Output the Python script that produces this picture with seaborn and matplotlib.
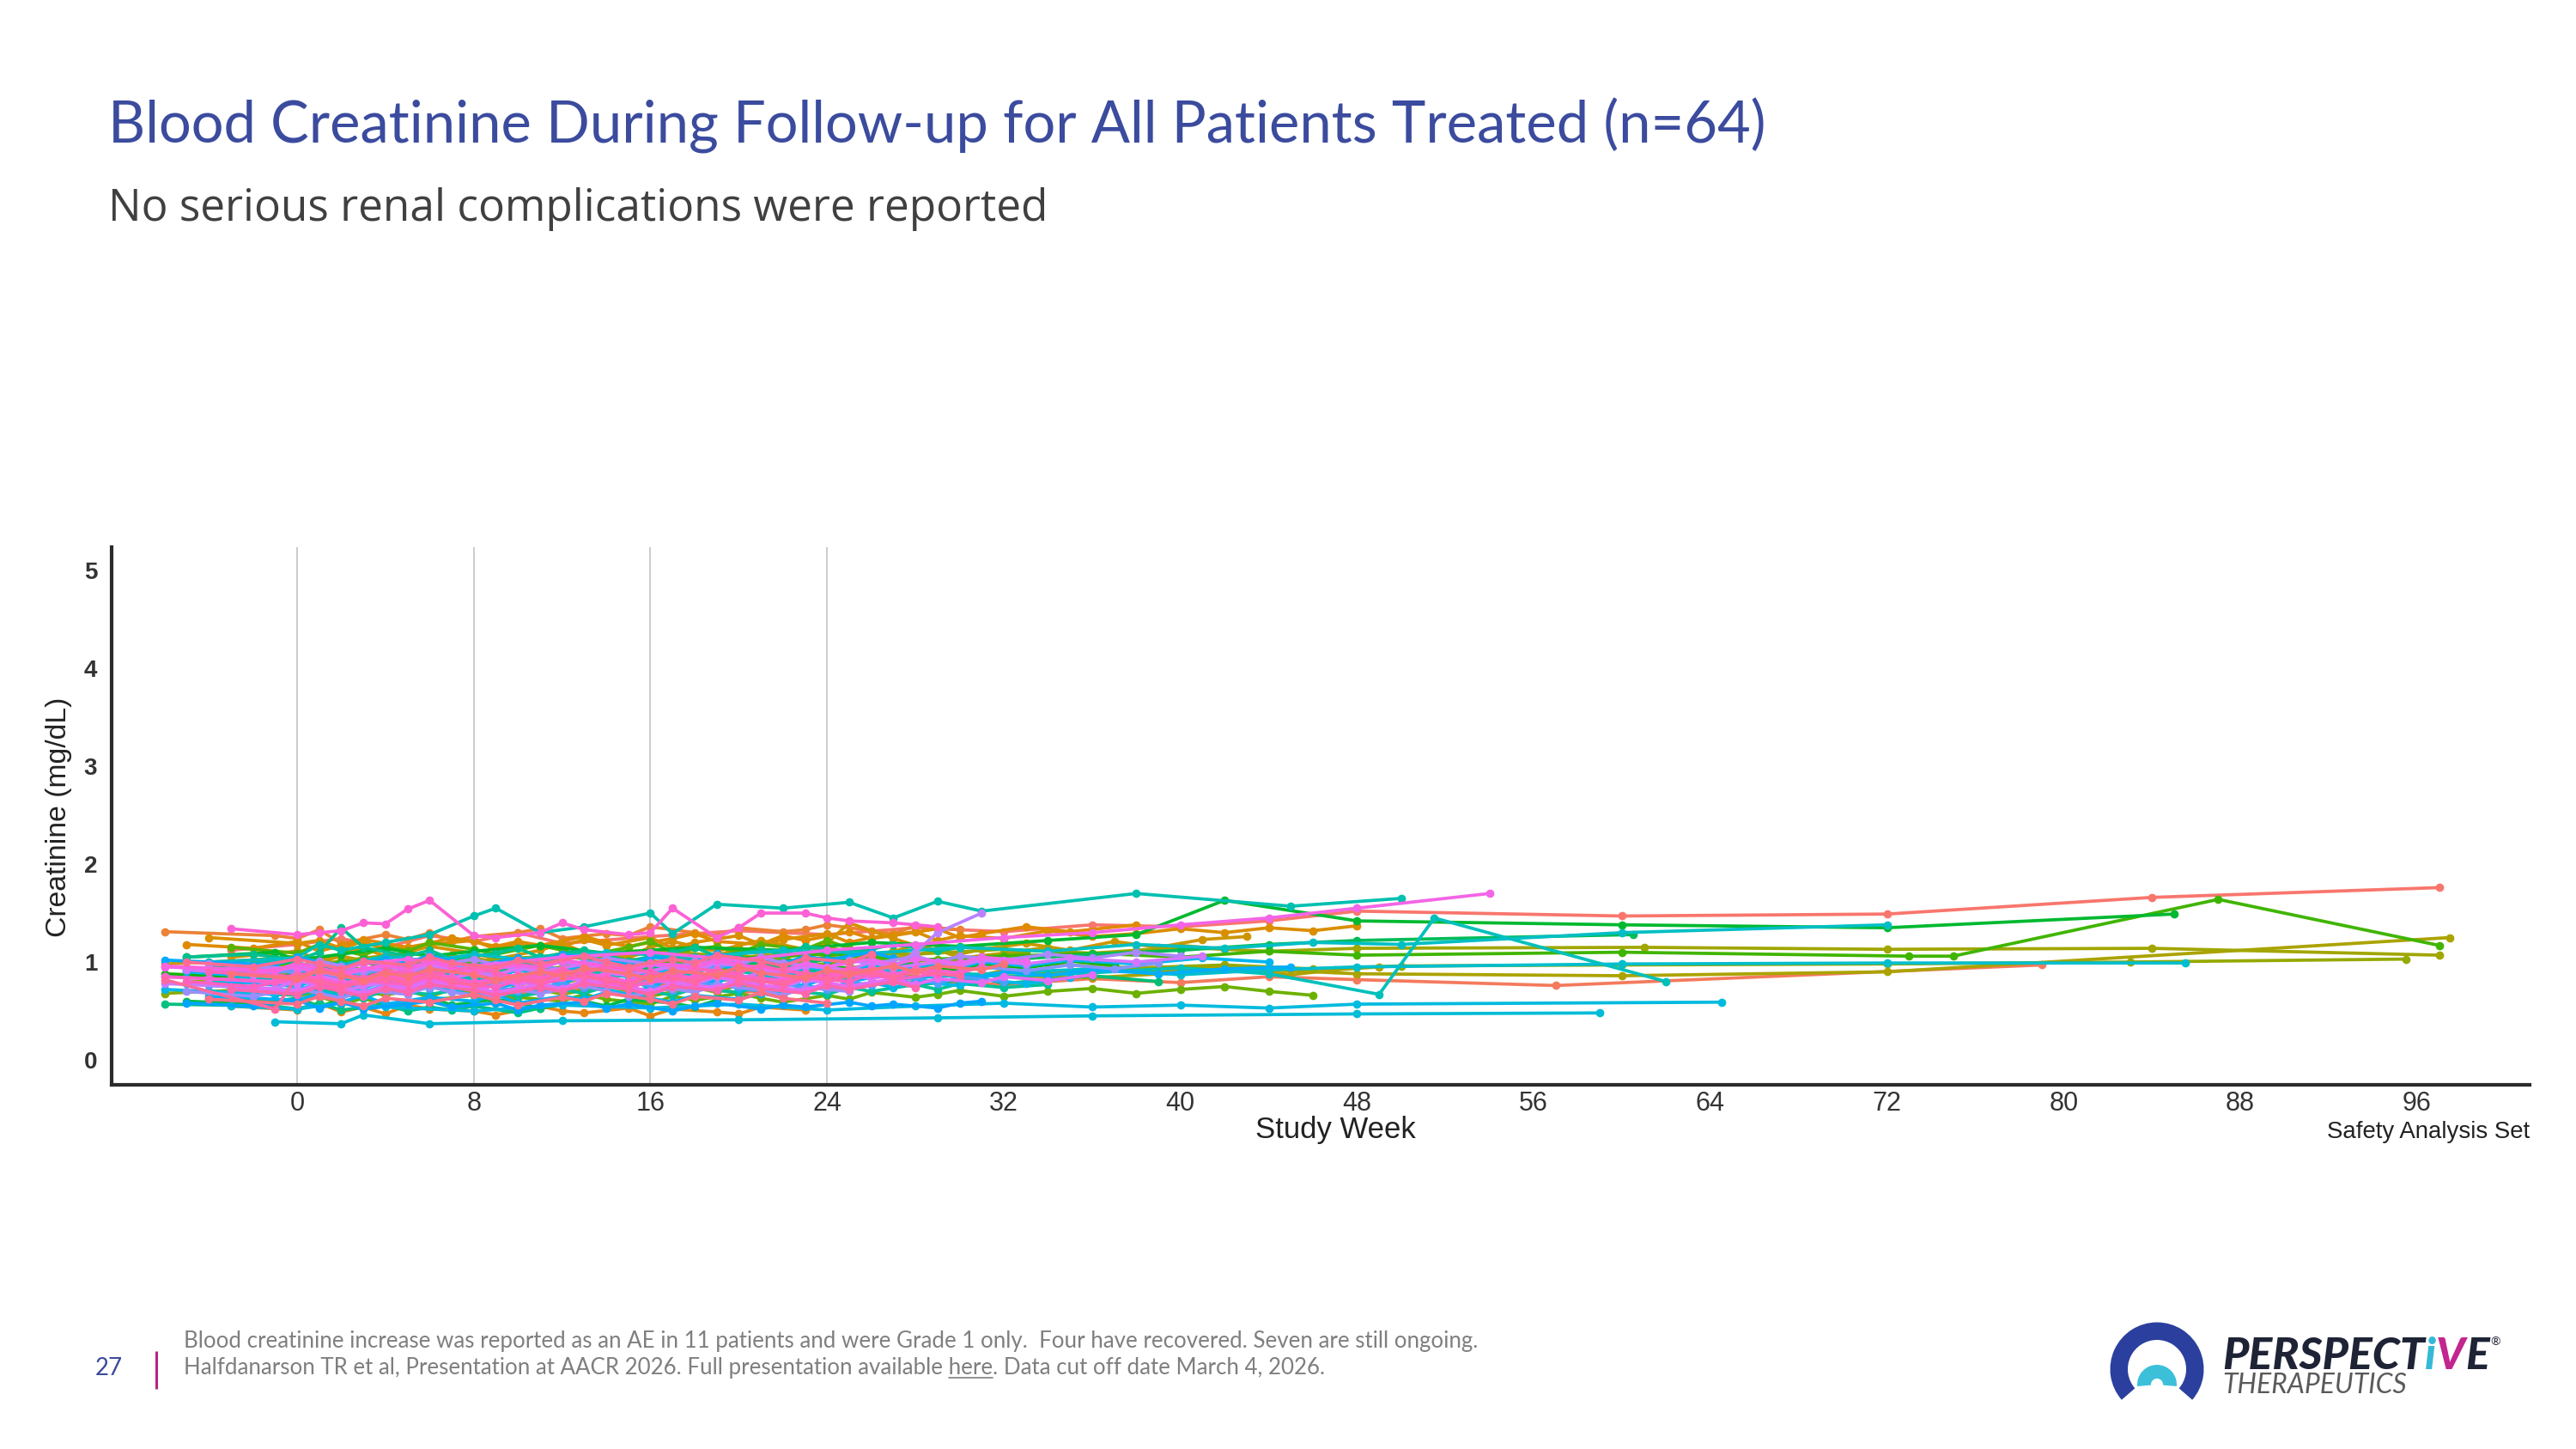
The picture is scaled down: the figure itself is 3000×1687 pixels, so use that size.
import numpy as np
import pandas as pd
import matplotlib
matplotlib.use("Agg")
import matplotlib.pyplot as plt
import seaborn as sns
from matplotlib.patches import Wedge
from matplotlib import font_manager as fm

# ---------------- text ----------------
TITLE = "Blood Creatinine During Follow-up for All Patients Treated (n=64)"
SUBTITLE = "No serious renal complications were reported"
XLABEL = "Study Week"
YLABEL = "Creatinine (mg/dL)"
SET_LABEL = "Safety Analysis Set"
FOOT1 = ("Blood creatinine increase was reported as an AE in 11 patients and were Grade 1 only.  "
         "Four have recovered. Seven are still ongoing.")
FOOT2_A = "Halfdanarson TR et al, Presentation at AACR 2026. Full presentation available "
FOOT2_LINK = "here"
FOOT2_B = ". Data cut off date March 4, 2026."
PAGE = "27"

XTICKS = [0, 8, 16, 24, 32, 40, 48, 56, 64, 72, 80, 88, 96]
YTICKS = [0, 1, 2, 3, 4, 5]
REF_WEEKS = [0, 8, 16, 24]

# ---------------- visit grids (study week) ----------------
WEEKS_A = [-4, 0, 1, 2, 3, 4, 6, 8, 9, 10, 12, 13, 14, 16, 17, 18, 20, 21, 22, 24, 25, 26, 28, 29, 30, 32, 34, 36, 38, 40, 42, 44, 46, 48]
WEEKS_B = [-6, -1, 0, 1, 2, 4, 5, 6, 7, 8, 10, 11, 12, 14, 15, 16, 18, 19, 20, 22, 23, 24, 26, 27, 28, 30, 31, 33, 35, 37, 39, 41, 43, 45]
WEEKS_C = [-3, 0, 1, 2, 3, 4, 5, 6, 8, 9, 11, 12, 13, 15, 16, 17, 19, 20, 21, 23, 24, 25, 27, 28, 29, 31, 32, 34, 36, 39, 42, 45, 47, 49]
WEEKS_D = [-5, -2, 0, 1, 2, 3, 5, 6, 7, 9, 10, 11, 13, 14, 15, 17, 18, 19, 21, 22, 23, 25, 26, 27, 29, 30, 31, 33, 35, 38, 41, 44, 47, 50]

# ---------------- creatinine per patient (weeks, mg/dL) ----------------
P01 = ([-3, 0, 2, 4, 6, 8, 10, 12, 16, 20, 24, 28, 32, 36, 40, 44, 48, 60, 72, 84, 97],
       [1.12, 1.18, 1.24, 1.15, 1.27, 1.21, 1.30, 1.19, 1.26, 1.32, 1.28, 1.35, 1.31, 1.38, 1.36, 1.42, 1.52, 1.47, 1.49, 1.66, 1.76])
P02 = ([-4, 0, 1, 3, 6, 9, 12, 16, 20, 24, 28, 32, 36, 40, 44, 48, 57, 79],
       [0.68, 0.72, 0.64, 0.70, 0.75, 0.66, 0.71, 0.78, 0.69, 0.74, 0.80, 0.77, 0.83, 0.79, 0.85, 0.82, 0.76, 0.97])
P03 = (WEEKS_A, [0.92, 0.87, 0.96, 0.90, 0.84, 0.93, 0.99, 0.91, 0.86, 0.95, 1.01, 0.94, 0.89, 1.02, 0.97, 0.93, 1.04, 0.99, 0.95, 1.06, 1.01, 1.08])
P04 = (WEEKS_B, [1.31, 1.27, 1.24, 1.33, 1.19, 1.28, 1.23, 1.30, 1.21, 1.26, 1.30, 1.34, 1.24, 1.29, 1.27, 1.36, 1.30, 1.26, 1.35, 1.31, 1.33, 1.38, 1.32, 1.29, 1.37, 1.33])
P05 = (WEEKS_C, [0.55, 0.51, 0.58, 0.49, 0.54, 0.47, 0.56, 0.52, 0.50, 0.46, 0.55, 0.50, 0.48, 0.53, 0.45, 0.52, 0.49, 0.47, 0.54, 0.51])
P06 = (WEEKS_D, [1.18, 1.14, 1.21, 1.11, 1.17, 1.23, 1.15, 1.19, 1.25, 1.16, 1.21, 1.17, 1.26, 1.20, 1.16, 1.24, 1.29, 1.21, 1.18, 1.27, 1.22, 1.31, 1.24, 1.27, 1.34, 1.25, 1.29, 1.36, 1.31, 1.38])
P07 = (WEEKS_A, [1.25, 1.19, 1.22, 1.14, 1.21, 1.12, 1.18, 1.22, 1.13, 1.19, 1.16, 1.23, 1.17, 1.25, 1.14, 1.20, 1.27, 1.18, 1.23, 1.29, 1.20, 1.25, 1.31, 1.22, 1.27, 1.24, 1.32, 1.26, 1.29, 1.34, 1.30, 1.35, 1.32, 1.37])
P08 = (WEEKS_C, [1.05, 1.11, 1.02, 1.08, 1.14, 1.06, 1.10, 1.16, 1.09, 1.03, 1.12, 1.19, 1.10, 1.06, 1.15, 1.21, 1.11, 1.17, 1.22, 1.13, 1.19, 1.40, 1.24, 1.17, 1.21])
P09 = (WEEKS_B, [0.98, 1.03, 0.95, 1.00, 1.06, 0.97, 1.02, 0.99, 1.07, 1.01, 0.96, 1.04, 1.09, 1.00, 1.05, 1.11, 1.02, 1.07, 1.13, 1.04, 1.09, 1.15, 1.06, 1.11, 1.17, 1.08, 1.13, 1.19, 1.12, 1.21, 1.15, 1.23, 1.26])
P10 = (WEEKS_D, [0.85, 0.79, 0.88, 0.82, 0.77, 0.86, 0.83, 0.78, 0.87, 0.81, 0.75, 0.84, 0.89, 0.80, 0.76, 0.85, 0.82, 0.88, 0.79, 0.84, 0.91, 0.83, 0.86, 0.92])
P11 = (WEEKS_A, [1.00, 0.94, 1.03, 0.97, 0.91, 1.01, 0.96, 1.05, 0.99, 0.93, 1.02, 0.98, 1.07, 1.00, 0.95, 1.03, 1.09, 1.01, 0.97, 1.05, 1.11, 1.02, 1.07, 1.13, 1.04, 1.09, 1.15, 1.06, 1.11, 1.17, 1.13])
P12 = (WEEKS_C, [0.78, 0.83, 0.75, 0.80, 0.86, 0.77, 0.83, 0.79, 0.73, 0.81, 0.87, 0.78, 0.84, 0.80, 0.75, 0.83, 0.89, 0.81, 0.85, 0.91, 0.82, 0.87, 0.93, 0.84, 0.89, 0.86, 0.92, 0.88, 0.94, 0.90, 0.96, 0.87, 0.92, 0.95])
P13 = ([-5, 0, 2, 4, 8, 12, 16, 20, 24, 28, 32, 36, 40, 44, 48, 60, 72, 97.5],
       [0.80, 0.84, 0.78, 0.86, 0.82, 0.88, 0.85, 0.81, 0.87, 0.90, 0.86, 0.84, 0.89, 0.92, 0.88, 0.86, 0.90, 1.25])
P14 = ([-2, 0, 1, 3, 5, 8, 12, 16, 20, 24, 28, 32, 36, 40, 44, 48, 61, 72, 84, 97],
       [1.02, 1.06, 0.98, 1.04, 1.09, 1.01, 1.07, 1.12, 1.05, 1.10, 1.08, 1.13, 1.09, 1.15, 1.11, 1.14, 1.15, 1.13, 1.14, 1.07])
P15 = ([-4, 0, 2, 4, 7, 10, 14, 18, 22, 26, 30, 34, 38, 42, 46, 50, 60, 72, 83, 95.5],
       [0.90, 0.86, 0.93, 0.88, 0.95, 0.91, 0.87, 0.94, 0.90, 0.96, 0.92, 0.98, 0.94, 0.97, 0.93, 0.96, 0.97, 0.98, 1.00, 1.03])
P16 = (WEEKS_B, [0.68, 0.73, 0.65, 0.70, 0.75, 0.66, 0.71, 0.64, 0.73, 0.69, 0.63, 0.72, 0.67, 0.76, 0.70, 0.65, 0.74, 0.69, 0.77, 0.71])
P17 = (WEEKS_D, [0.92, 0.97, 0.89, 0.94, 1.00, 0.91, 0.97, 0.93, 0.87, 0.95, 1.01, 0.92, 0.98, 0.94, 0.89, 0.97, 1.03, 0.95, 0.99, 1.05, 0.96, 1.01, 1.07, 0.98, 1.03, 1.00, 1.05, 1.09])
P18 = (WEEKS_A, [0.62, 0.59, 0.65, 0.57, 0.63, 0.56, 0.61, 0.66, 0.58, 0.64, 0.60, 0.67, 0.62, 0.57, 0.65, 0.61, 0.68, 0.63, 0.59, 0.66, 0.62, 0.69, 0.64, 0.67, 0.71, 0.65, 0.70, 0.73, 0.68, 0.72, 0.75, 0.70, 0.66])
P19 = (WEEKS_C, [1.15, 1.09, 1.18, 1.12, 1.07, 1.16, 1.11, 1.20, 1.13, 1.08, 1.17, 1.12, 1.06, 1.15, 1.21, 1.10, 1.16, 1.09, 1.18, 1.13, 1.22, 1.14])
P20 = ([-3, 0, 1, 2, 4, 6, 8, 12, 16, 20, 24, 28, 32, 36, 40, 44, 48, 60, 73, 75, 87, 97],
       [0.95, 0.99, 0.92, 1.01, 0.97, 1.03, 0.98, 1.05, 1.00, 1.04, 1.08, 1.02, 1.06, 1.09, 1.05, 1.11, 1.07, 1.10, 1.06, 1.06, 1.64, 1.17])
P21 = (WEEKS_B, [0.88, 0.83, 0.90, 0.86, 0.81, 0.89, 0.85, 0.92, 0.87, 0.82, 0.92, 0.88, 0.84, 0.91, 0.86, 0.93, 0.89, 0.84, 0.94, 0.90, 0.87, 0.96, 0.91, 0.88, 0.97, 0.92, 0.98, 0.94, 1.01, 0.97])
P22 = ([-5, -1, 0, 2, 4, 6, 8, 11, 14, 18, 22, 26, 30, 34, 38, 42, 48, 60, 72, 85],
       [1.05, 1.10, 1.02, 1.08, 1.14, 1.06, 1.11, 1.17, 1.09, 1.15, 1.12, 1.20, 1.16, 1.22, 1.28, 1.63, 1.42, 1.38, 1.35, 1.49])
P23 = (WEEKS_D, [0.60, 0.57, 0.63, 0.55, 0.61, 0.54, 0.59, 0.64, 0.56, 0.62, 0.58, 0.53, 0.60, 0.55, 0.62, 0.58, 0.54, 0.61])
P24 = ([-3, 0, 1, 2, 4, 6, 8, 12, 16, 20, 24, 28, 32, 36, 40, 44, 48, 60.5],
       [0.88, 0.92, 0.85, 0.90, 0.96, 0.89, 0.94, 1.00, 0.93, 0.98, 1.04, 0.97, 1.02, 1.08, 1.12, 1.18, 1.22, 1.28])
P25 = (WEEKS_A, [0.95, 1.00, 0.92, 0.97, 1.03, 0.94, 1.00, 0.96, 0.90, 0.98, 1.04, 0.95, 1.01, 0.97, 0.92, 1.00, 1.06, 0.98, 0.94, 1.03, 0.99])
P26 = (WEEKS_C, [0.74, 0.69, 0.77, 0.72, 0.67, 0.75, 0.71, 0.79, 0.73, 0.68, 0.76, 0.72, 0.80, 0.74, 0.69, 0.77, 0.73, 0.81, 0.75, 0.70, 0.78, 0.74, 0.82, 0.76, 0.79, 0.84, 0.78, 0.82, 0.86, 0.80])
P27 = (WEEKS_B, [0.57, 0.55, 0.52, 0.58, 0.51, 0.56, 0.50, 0.54, 0.51, 0.55, 0.48, 0.53])
P28 = (WEEKS_D, [1.05, 1.08, 1.02, 1.10, 1.35, 1.15, 1.06, 1.12, 1.03, 1.09, 1.14, 1.05, 1.12, 1.07, 1.01, 1.10, 1.15, 1.06, 1.12, 1.08, 1.16, 1.10, 1.13, 1.18, 1.11, 1.15])
P29 = (WEEKS_A, [0.70, 0.66, 0.72, 0.68, 0.63, 0.71, 0.67, 0.74, 0.69, 0.65, 0.72, 0.68, 0.75, 0.70, 0.66, 0.73, 0.69, 0.76, 0.71, 0.67, 0.74, 0.70, 0.77, 0.72, 0.78, 0.74, 0.77])
P30 = (WEEKS_C, [0.85, 0.80, 0.87, 0.83, 0.77, 0.86, 0.81, 0.89, 0.84, 0.79, 0.87, 0.82, 0.90, 0.85, 0.80, 0.88, 0.83, 0.91, 0.86, 0.81, 0.89, 0.84, 0.92])
P31 = ([-3, 0, 1, 2, 4, 6, 8, 9, 11, 13, 16, 17, 19, 22, 25, 27, 29, 31, 38, 45, 50],
       [0.95, 1.05, 1.18, 1.12, 1.20, 1.28, 1.47, 1.55, 1.30, 1.36, 1.50, 1.29, 1.59, 1.55, 1.61, 1.45, 1.62, 1.52, 1.70, 1.57, 1.65])
P32 = ([-2, 0, 1, 3, 5, 8, 12, 16, 20, 24, 28, 32, 36, 40, 44, 49, 51.5, 62],
       [0.82, 0.86, 0.79, 0.84, 0.88, 0.81, 0.85, 0.90, 0.83, 0.87, 0.92, 0.85, 0.89, 0.94, 0.88, 0.67, 1.45, 0.80])
P33 = ([-4, 0, 2, 4, 6, 8, 10, 14, 18, 22, 26, 30, 34, 38, 42, 46, 50, 60, 72],
       [1.00, 1.04, 0.97, 1.06, 1.01, 1.08, 1.03, 1.10, 1.05, 1.12, 1.09, 1.15, 1.11, 1.18, 1.14, 1.20, 1.18, 1.30, 1.38])
P34 = ([-5, 0, 1, 3, 6, 9, 12, 15, 18, 21, 24, 28, 32, 36, 40, 44, 48, 60, 72, 85.5],
       [0.78, 0.82, 0.75, 0.80, 0.85, 0.79, 0.83, 0.88, 0.81, 0.86, 0.90, 0.84, 0.89, 0.93, 0.87, 0.92, 0.95, 0.98, 0.99, 0.99])
P35 = ([-1, 2, 3, 6, 12, 20, 29, 36, 48, 59],
       [0.39, 0.37, 0.46, 0.37, 0.40, 0.41, 0.43, 0.45, 0.47, 0.48])
P36 = ([-3, 0, 2, 4, 8, 12, 16, 20, 24, 28, 32, 36, 40, 44, 48, 64.5],
       [0.55, 0.52, 0.58, 0.54, 0.50, 0.56, 0.53, 0.57, 0.51, 0.55, 0.58, 0.54, 0.56, 0.53, 0.57, 0.59])
P37 = (WEEKS_B, [0.72, 0.67, 0.75, 0.70, 0.65, 0.73, 0.69, 0.76, 0.71, 0.66, 0.74, 0.70, 0.77, 0.72, 0.67, 0.75, 0.71, 0.78, 0.73, 0.68, 0.76, 0.72, 0.79, 0.74, 0.80, 0.76, 0.82, 0.78, 0.84])
P38 = (WEEKS_D, [0.90, 0.85, 0.93, 0.88, 0.83, 0.91, 0.87, 0.94, 0.89, 0.84, 0.92, 0.88, 0.95, 0.90, 0.85, 0.93, 0.89, 0.96, 0.91, 0.86, 0.94, 0.90, 0.97, 0.92, 0.98, 0.94, 1.00, 0.96, 1.02, 0.98, 1.04, 1.00])
P39 = (WEEKS_A, [0.65, 0.61, 0.68, 0.59, 0.66, 0.57, 0.64, 0.60, 0.67, 0.58, 0.65, 0.62, 0.69, 0.63, 0.59, 0.66, 0.62, 0.68, 0.64])
P40 = (WEEKS_C, [0.80, 0.75, 0.83, 0.78, 0.73, 0.81, 0.77, 0.85, 0.79, 0.74, 0.82, 0.78, 0.86, 0.80, 0.75, 0.83, 0.79, 0.87, 0.81, 0.76, 0.84, 0.80, 0.88, 0.82, 0.88, 0.84, 0.90, 0.86, 0.92, 0.88, 0.93, 0.95])
P41 = (WEEKS_B, [1.02, 0.97, 1.05, 1.00, 0.95, 1.03, 0.99, 1.07, 1.01, 0.96, 1.04, 1.00, 1.08, 1.02, 0.97, 1.05, 1.01, 1.09, 1.03, 0.98, 1.06, 1.02, 1.10, 1.04])
P42 = (WEEKS_D, [0.58, 0.55, 0.61, 0.53, 0.59, 0.52, 0.57, 0.60, 0.54, 0.58, 0.51, 0.56, 0.59, 0.53, 0.57, 0.50, 0.55, 0.58, 0.52, 0.56, 0.54, 0.59, 0.55, 0.57, 0.53, 0.58, 0.60])
P43 = (WEEKS_A, [0.76, 0.71, 0.79, 0.74, 0.69, 0.77, 0.73, 0.81, 0.75, 0.70, 0.78, 0.74, 0.82, 0.76, 0.71, 0.79, 0.75, 0.83, 0.77, 0.72, 0.80, 0.76, 0.84, 0.78, 0.85, 0.80])
P44 = (WEEKS_C, [0.95, 0.89, 0.98, 0.93, 0.87, 0.96, 0.91, 1.00, 0.94, 0.88, 0.97, 0.92, 1.01, 0.95, 0.89, 0.98, 0.93, 1.02])
P45 = (WEEKS_B, [0.85, 0.80, 0.88, 0.83, 0.78, 0.86, 0.82, 0.90, 0.84, 0.79, 0.87, 0.83, 0.91, 0.85, 0.80, 0.88, 0.84, 0.92, 0.86, 0.81, 0.89, 0.85, 0.93, 0.87, 0.93, 0.89, 0.95, 0.91, 0.97, 0.93, 0.99])
P46 = (WEEKS_D, [0.70, 0.65, 0.73, 0.68, 0.63, 0.71, 0.67, 0.75, 0.69, 0.64, 0.72, 0.68, 0.76, 0.70, 0.65, 0.73, 0.69, 0.77, 0.71, 0.66, 0.74, 0.70])
P47 = (WEEKS_A, [0.98, 0.93, 1.01, 0.96, 0.91, 0.99, 0.95, 1.03, 0.97, 0.92, 1.00, 0.96, 1.04, 0.98, 0.93, 1.01, 0.97, 1.05, 0.99, 0.94, 1.02, 0.98, 1.06, 1.00, 1.06, 1.02, 1.08, 1.04, 1.10, 1.06])
P48 = (WEEKS_C, [0.88, 0.83, 0.91, 0.86, 0.81, 0.89, 0.85, 0.93, 0.87, 0.82, 0.90, 0.86, 0.94, 0.88, 0.83, 0.91, 0.87, 0.95, 0.89, 0.84, 0.92, 0.88, 0.95, 1.10, 1.30, 1.50])
P49 = (WEEKS_B, [0.78, 0.73, 0.81, 0.76, 0.71, 0.79, 0.75, 0.83, 0.77, 0.72, 0.80, 0.76, 0.84, 0.78, 0.73, 0.81, 0.77, 0.85, 0.79, 0.74, 0.82])
P50 = (WEEKS_D, [0.92, 0.87, 0.95, 0.90, 0.85, 0.93, 0.89, 0.97, 0.91, 0.86, 0.94, 0.90, 0.98, 0.92, 0.87, 0.95, 0.91, 0.99, 0.93, 0.88, 0.96, 0.92, 1.00, 0.94, 1.00, 0.96, 1.02, 0.98, 1.04, 1.00, 1.06])
P51 = (WEEKS_A, [0.83, 0.78, 0.86, 0.81, 0.76, 0.84, 0.80, 0.88, 0.82, 0.77, 0.85, 0.81, 0.89, 0.83, 0.78, 0.86, 0.82, 0.90, 0.84, 0.79, 0.87, 0.83, 0.91, 0.85])
P52 = (WEEKS_C, [0.75, 0.70, 0.78, 0.73, 0.68, 0.76, 0.72, 0.80, 0.74, 0.69, 0.77, 0.73, 0.81, 0.75, 0.70, 0.78, 0.74, 0.82, 0.76, 0.71, 0.79, 0.75, 0.83, 0.77, 0.83, 0.79, 0.85, 0.81, 0.87])
P53 = (WEEKS_B, [0.95, 0.90, 0.98, 0.93, 0.88, 0.96, 0.92, 1.00, 0.94, 0.89, 0.97, 0.93, 1.01, 0.95, 0.90, 0.98, 0.94, 1.02, 0.96, 0.91, 0.99, 0.95, 1.03, 0.97, 1.03, 0.99, 1.05, 1.01])
P54 = ([-2, 0, 1, 3, 5, 8, 12, 16, 20, 24, 28, 32, 36, 40, 44, 48, 54],
       [0.90, 0.95, 0.88, 0.98, 1.03, 0.96, 1.05, 1.10, 1.02, 1.12, 1.18, 1.25, 1.30, 1.38, 1.45, 1.55, 1.70])
P55 = (WEEKS_B, [0.96, 0.91, 0.99, 0.94, 0.89, 0.97, 0.93, 1.01, 0.95, 0.90, 0.98, 0.94, 1.02, 0.96, 0.91, 0.99, 0.95, 1.03, 0.97, 0.92])
P56 = (WEEKS_C, [1.34, 1.28, 1.30, 1.32, 1.40, 1.39, 1.54, 1.63, 1.27, 1.25, 1.30, 1.40, 1.33, 1.28, 1.30, 1.55, 1.25, 1.35, 1.50, 1.50, 1.45, 1.42, 1.40, 1.38, 1.36])
P57 = (WEEKS_B, [0.85, 0.80, 0.88, 0.83, 0.78, 0.86, 0.82, 0.90, 0.84, 0.79, 0.87, 0.83, 0.91, 0.85, 0.80, 0.88, 0.84, 0.92, 0.86, 0.81, 0.89, 0.85, 0.93, 0.87, 0.93, 0.89, 0.95])
P58 = (WEEKS_D, [0.80, 0.75, 0.83, 0.78, 0.73, 0.81, 0.77, 0.85, 0.79, 0.74, 0.82, 0.78, 0.86, 0.80, 0.75, 0.83, 0.79, 0.87, 0.81, 0.76, 0.84, 0.80, 0.88, 0.82, 0.88])
P59 = (WEEKS_A, [0.90, 0.85, 0.93, 0.88, 0.83, 0.91, 0.87, 0.95, 0.89, 0.84, 0.92, 0.88, 0.96, 0.90, 0.85, 0.93, 0.89, 0.97, 0.91, 0.86, 0.94, 0.90])
P60 = (WEEKS_C, [0.72, 0.67, 0.75, 0.70, 0.65, 0.73, 0.69, 0.77, 0.71, 0.66, 0.74, 0.70, 0.78, 0.72, 0.67, 0.75, 0.71, 0.79, 0.73, 0.68, 0.76, 0.72, 0.80, 0.74])
P61 = (WEEKS_B, [0.82, 0.52, 0.85, 0.80, 0.75, 0.83, 0.79, 0.87, 0.81, 0.76, 0.84, 0.80, 0.88, 0.82, 0.77, 0.85, 0.81, 0.89, 0.83, 0.78, 0.86, 0.82, 0.90, 0.84, 0.90, 0.86])
P62 = (WEEKS_D, [1.00, 0.95, 1.03, 0.98, 0.93, 1.01, 0.97, 1.05, 0.99, 0.94, 1.02, 0.98, 1.06, 1.00, 0.95, 1.03, 0.99, 1.07, 1.01, 0.96, 1.04, 1.00, 1.08])
P63 = (WEEKS_A, [0.62, 0.57, 0.65, 0.60, 0.55, 0.63, 0.59, 0.67, 0.61, 0.56, 0.64, 0.60, 0.68, 0.62, 0.57, 0.65, 0.61, 0.69, 0.63, 0.58])
P64 = (WEEKS_C, [0.88, 0.83, 0.91, 0.86, 0.81, 0.89, 0.85, 0.93, 0.87, 0.82, 0.90, 0.86, 0.94, 0.88, 0.83, 0.91, 0.87, 0.95, 0.89, 0.84, 0.92, 0.88, 0.96, 0.90, 0.96, 0.92, 0.98])

PATIENTS = [P01, P02, P03, P04, P05, P06, P07, P08, P09, P10, P11, P12, P13, P14, P15, P16,
            P17, P18, P19, P20, P21, P22, P23, P24, P25, P26, P27, P28, P29, P30, P31, P32,
            P33, P34, P35, P36, P37, P38, P39, P40, P41, P42, P43, P44, P45, P46, P47, P48,
            P49, P50, P51, P52, P53, P54, P55, P56, P57, P58, P59, P60, P61, P62, P63, P64]
PIDS = ["P%02d" % (i + 1) for i in range(len(PATIENTS))]

rows = []
for pid, (weeks, vals) in zip(PIDS, PATIENTS):
    for w, v in zip(weeks[:len(vals)], vals):
        rows.append((pid, w, v))
df = pd.DataFrame(rows, columns=["pid", "week", "creat"])


# ggplot2-style hue palette (HCL, l=65, c=100, start at 15 degrees)
def hue_pal(n, h0=15.0, c=100.0, l=65.0):
    Xn, Yn, Zn = 95.047, 100.0, 108.883
    un = 4 * Xn / (Xn + 15 * Yn + 3 * Zn)
    vn = 9 * Yn / (Xn + 15 * Yn + 3 * Zn)
    Y = Yn * ((l + 16) / 116) ** 3
    M = np.array([[3.2404542, -1.5371385, -0.4985314],
                  [-0.9692660, 1.8760108, 0.0415560],
                  [0.0556434, -0.2040259, 1.0572252]])
    out = []
    for k in range(n):
        h = np.deg2rad(h0 + 360.0 * k / n)
        u = c * np.cos(h) / (13 * l) + un
        v = c * np.sin(h) / (13 * l) + vn
        X = 9 * Y * u / (4 * v)
        Z = 3 * Y / v - X / 3 - 5 * Y
        lin = M @ np.array([X, Y, Z]) / 100.0
        rgb = np.where(lin <= 0.0031308, 12.92 * lin, 1.055 * np.power(np.clip(lin, 0, None), 1 / 2.4) - 0.055)
        out.append(tuple(np.clip(rgb, 0, 1)))
    return out


COLORS = hue_pal(len(PIDS))

# ---------------- fonts ----------------
sns.set_style("white")
avail = {f.name for f in fm.fontManager.ttflist}
NARROW = "Liberation Sans Narrow" if "Liberation Sans Narrow" in avail else "Liberation Sans"
SLIDE = "Lato" if "Lato" in avail else "DejaVu Sans"
SUBF = "Open Sans" if "Open Sans" in avail else SLIDE
plt.rcParams["font.family"] = [NARROW, "DejaVu Sans"]

W, H = 3000, 1687
fig = plt.figure(figsize=(W / 100, H / 100), dpi=100)
fig.patch.set_facecolor("white")

ov = fig.add_axes([0, 0, 1, 1])
ov.set_xlim(0, W)
ov.set_ylim(H, 0)
ov.set_axis_off()

ax = fig.add_axes([130 / W, 1 - 1263 / H, 2816 / W, 626 / H])
ax.set_facecolor("white")

sns.lineplot(data=df, x="week", y="creat", hue="pid", hue_order=PIDS, palette=COLORS,
             units="pid", estimator=None, sort=False, marker="o", markersize=7,
             markeredgewidth=0, linewidth=2.7, legend=False, ax=ax)

for w in REF_WEEKS:
    ax.axvline(w, color="#cccccc", lw=1.4, zorder=0)

ax.set_xlim(-8.4, 101.1)
ax.set_ylim(-0.254, 5.237)
ax.set_xticks(XTICKS)
ax.set_xticklabels([str(t) for t in XTICKS])
ax.set_yticks(YTICKS)
ax.set_yticklabels([str(t) for t in YTICKS])
ax.grid(False)
for s in ["top", "right"]:
    ax.spines[s].set_visible(False)
for s in ["left", "bottom"]:
    ax.spines[s].set_color("#2b2b2b")
    ax.spines[s].set_linewidth(3)
ax.tick_params(axis="x", length=0, pad=5, labelsize=22, labelcolor="#333333")
ax.tick_params(axis="y", length=7, width=2, color="#333333", pad=5, labelsize=20, labelcolor="#333333")
for lbl in ax.get_yticklabels():
    lbl.set_fontweight("bold")
    lbl.set_fontfamily(NARROW)
for lbl in ax.get_xticklabels():
    lbl.set_fontfamily(NARROW)

renderer = fig.canvas.get_renderer()


def fit(t, size, vertical=False):
    bb = t.get_window_extent(renderer)
    cur = bb.height if vertical else bb.width
    t.set_fontsize(t.get_fontsize() * size / cur)
    return t


ax.set_xlabel(XLABEL, fontsize=25, color="#222222", family=NARROW)
ax.xaxis.label.set_va("center")
ax.xaxis.set_label_coords((1555 - 130) / 2816, -(1316 - 1263) / 626)
fit(ax.xaxis.label, 187)

ax.set_ylabel(YLABEL, fontsize=23, color="#222222", family=NARROW)
ax.yaxis.label.set_va("center")
ax.yaxis.set_label_coords((69 - 130) / 2816, (1263 - 951) / 626)
fit(ax.yaxis.label, 281, vertical=True)

tset = ax.text(1.0, -(1318 - 1263) / 626, SET_LABEL, transform=ax.transAxes, ha="right", va="center",
               fontsize=18, color="#222222", family=NARROW)
fit(tset, 237)

# ---------------- slide texts ----------------
t = ov.text(126, 166, TITLE, va="baseline", ha="left", fontsize=40, color="#3B4B9E", family=SLIDE)
fit(t, 1930)
t = ov.text(126, 257, SUBTITLE, va="baseline", ha="left", fontsize=30, color="#404040", family=SUBF)
fit(t, 1094)

f1 = ov.text(214, 1569, FOOT1, va="baseline", ha="left", fontsize=16, color="#7f7f7f", family=SLIDE)
fit(f1, 1507)
fsz = f1.get_fontsize()
f2 = ov.text(214, 1600, FOOT2_A + FOOT2_LINK + FOOT2_B, va="baseline", ha="left", fontsize=fsz,
             color="#7f7f7f", family=SLIDE)
tmp = ov.text(214, 1600, FOOT2_A + FOOT2_LINK, va="baseline", ha="left", fontsize=fsz, family=SLIDE)
w_pre = tmp.get_window_extent(renderer).width
tmp.set_text(FOOT2_LINK)
w_link = tmp.get_window_extent(renderer).width
tmp.remove()
ov.plot([214 + w_pre - w_link, 214 + w_pre], [1604, 1604], color="#7f7f7f", lw=1.2)

pg = ov.text(111, 1601, PAGE, va="baseline", ha="left", fontsize=20, color="#3B4B9E", family=SLIDE)
fit(pg, 32)
ov.plot([182, 182], [1573, 1617], color="#B5267F", lw=2.2, solid_capstyle="butt")

# ---------------- logo ----------------
ov.add_patch(Wedge((2512, 1594), 54.5, 139, 401, width=20.5, facecolor="#2B3F9E", edgecolor="none"))
ov.add_patch(Wedge((2512, 1612), 23, 175, 365, width=16, facecolor="#3CC0DA", edgecolor="none"))

x = 2588.0
segs = [("PERSPECT", "#1F2336"), ("i", "#35B9D6"), ("V", "#C2268F"), ("E", "#1F2336")]
logo_size = 31
texts = []
for s, col in segs:
    tt = ov.text(x, 1594, s, va="baseline", ha="left", fontsize=logo_size, color=col,
                 family=SLIDE, fontweight="black", fontstyle="italic")
    x += tt.get_window_extent(renderer).width
    texts.append(tt)
scale = 310 / (x - 2588.0)
x = 2588.0
for tt in texts:
    tt.set_fontsize(logo_size * scale)
    tt.set_x(x)
    x += tt.get_window_extent(renderer).width
ov.text(x + 2, 1566, "\u00ae", va="baseline", ha="left", fontsize=10, color="#1F2336", family=SLIDE)
th = ov.text(2588, 1622, "THERAPEUTICS", va="baseline", ha="left", fontsize=21, color="#5a5a5a",
             family=SLIDE, fontstyle="italic")
fit(th, 214)

fig.savefig("out.png", dpi=100, facecolor="white")
